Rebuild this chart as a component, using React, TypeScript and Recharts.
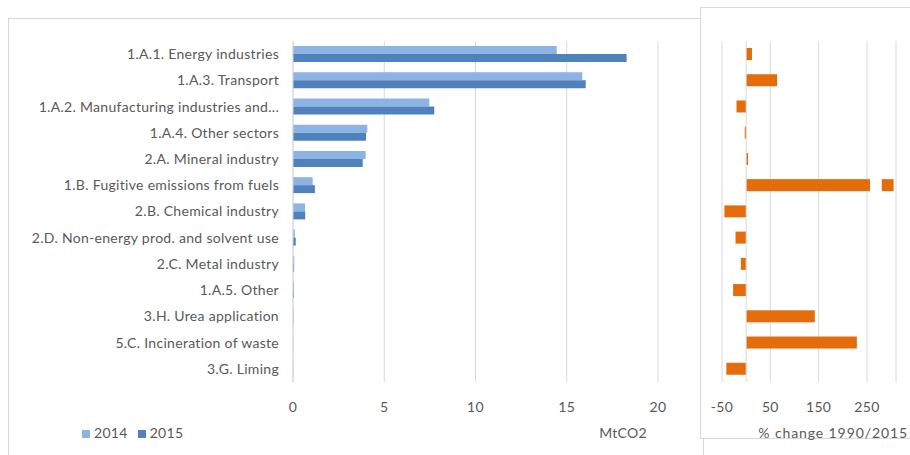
import React from "react";
import {
  BarChart,
  Bar,
  XAxis,
  YAxis,
  CartesianGrid,
  Legend,
  ReferenceLine,
} from "recharts";

const categories = [
  "1.A.1.  Energy industries",
  "1.A.3.  Transport",
  "1.A.2.  Manufacturing industries and...",
  "1.A.4.  Other sectors",
  "2.A.  Mineral industry",
  "1.B. Fugitive emissions from fuels",
  "2.B.  Chemical industry",
  "2.D.  Non-energy prod. and solvent use",
  "2.C.  Metal industry",
  "1.A.5.  Other",
  "3.H.  Urea application",
  "5.C.  Incineration  of waste",
  "3.G.  Liming",
];

const emissions2014 = [14.45, 15.85, 7.47, 4.07, 3.98, 1.08, 0.66, 0.1, 0.07, 0.06, 0.03, 0.01, 0.01];
const emissions2015 = [18.28, 16.04, 7.74, 4.0, 3.82, 1.2, 0.67, 0.15, 0.06, 0.05, 0.02, 0.01, 0.01];
const pctChange = [12, 64, -20, -3, 4, 305, -45, -22, -11, -27, 142, 229, -41];

const mtTicks = [0, 5, 10, 15, 20];
const pctTicks = [-50, 50, 150, 250];

const rows = categories.map((name, i) => ({
  name,
  y2014: emissions2014[i],
  y2015: emissions2015[i],
  pct: pctChange[i],
}));

const FONT = "Lato, 'DejaVu Sans', sans-serif";
const GRID = "#d9d9d9";
const TEXT = "#595959";
const tickStyle = {
  fill: TEXT,
  fontSize: 14,
  fontFamily: FONT,
  letterSpacing: 0.3,
  whiteSpace: "pre" as const,
};

// bar that runs past the axis end gets a small white break
function BreakBar(props: any) {
  const { x, y, width, height, fill, value } = props;
  const left = Math.min(x, x + width);
  const w = Math.abs(width);
  if (value > 300) {
    return (
      <g>
        <rect x={left} y={y} width={w * 0.84} height={height} fill={fill} />
        <rect x={left + w * 0.92} y={y} width={w * 0.08} height={height} fill={fill} />
      </g>
    );
  }
  return <rect x={left} y={y} width={w} height={height} fill={fill} />;
}

// title sits under the tick labels, right aligned near the plot end
function AxisTitle({ viewBox, value, dx, spacing }: any) {
  return (
    <text
      x={viewBox.x + viewBox.width + dx}
      y={viewBox.y + 56}
      textAnchor="end"
      fill={TEXT}
      fontSize={14}
      letterSpacing={spacing}
      fontFamily={FONT}
    >
      {value}
    </text>
  );
}

export default function App() {
  return (
    <div
      style={{
        position: "fixed",
        left: 0,
        top: 0,
        width: 910,
        height: 455,
        overflow: "hidden",
        background: "#fff",
      }}
    >
      <div
        style={{
          position: "absolute",
          left: 8,
          top: 18,
          width: 694,
          height: 460,
          border: `1px solid ${GRID}`,
        }}
      />
      <div style={{ position: "absolute", left: 0, top: 0 }}>
        <BarChart
          width={700}
          height={455}
          data={rows}
          layout="vertical"
          margin={{ top: 41, right: 42, bottom: 6, left: 0 }}
          barGap={0}
        >
          <CartesianGrid horizontal={false} stroke={GRID} />
          <XAxis
            type="number"
            domain={[0, 20]}
            ticks={mtTicks}
            axisLine={false}
            tickLine={false}
            tickSize={0}
            tickMargin={20}
            height={50}
            tick={tickStyle}
            label={<AxisTitle value="MtCO2" dx={-11} spacing={0.3} />}
          />
          <YAxis
            type="category"
            dataKey="name"
            width={293}
            axisLine={{ stroke: GRID }}
            tickLine={false}
            tickSize={0}
            tickMargin={14}
            interval={0}
            tick={tickStyle}
          />
          <Legend
            verticalAlign="bottom"
            align="left"
            iconType="square"
            iconSize={8}
            wrapperStyle={{ left: 82, top: 424, width: 200, fontFamily: FONT, fontSize: 14, letterSpacing: 0.3 }}
            formatter={(v: string) => <span style={{ color: TEXT }}>{v}</span>}
          />
          <Bar dataKey="y2014" name="2014" fill="#8db3e2" barSize={8} isAnimationActive={false} />
          <Bar dataKey="y2015" name="2015" fill="#4f81bd" barSize={8} isAnimationActive={false} />
        </BarChart>
      </div>
      <div
        style={{
          position: "absolute",
          left: 700,
          top: 7,
          width: 230,
          height: 430,
          border: `1px solid ${GRID}`,
          background: "#fff",
        }}
      />
      <div style={{ position: "absolute", left: 700, top: 0 }}>
        <BarChart
          width={210}
          height={455}
          data={rows}
          layout="vertical"
          margin={{ top: 41, right: 14, bottom: 6, left: 22 }}
        >
          <CartesianGrid horizontal={false} stroke={GRID} />
          <XAxis
            type="number"
            domain={[-50, 310]}
            ticks={pctTicks}
            allowDataOverflow
            axisLine={false}
            tickLine={false}
            tickSize={0}
            tickMargin={20}
            height={67}
            tick={tickStyle}
            label={<AxisTitle value="% change 1990/2015" dx={12} spacing={0.9} />}
          />
          <YAxis type="category" dataKey="name" hide />
          <ReferenceLine x={0} stroke={GRID} />
          <Bar
            dataKey="pct"
            fill="#e46c0a"
            barSize={12}
            shape={<BreakBar />}
            isAnimationActive={false}
          />
        </BarChart>
      </div>
    </div>
  );
}
